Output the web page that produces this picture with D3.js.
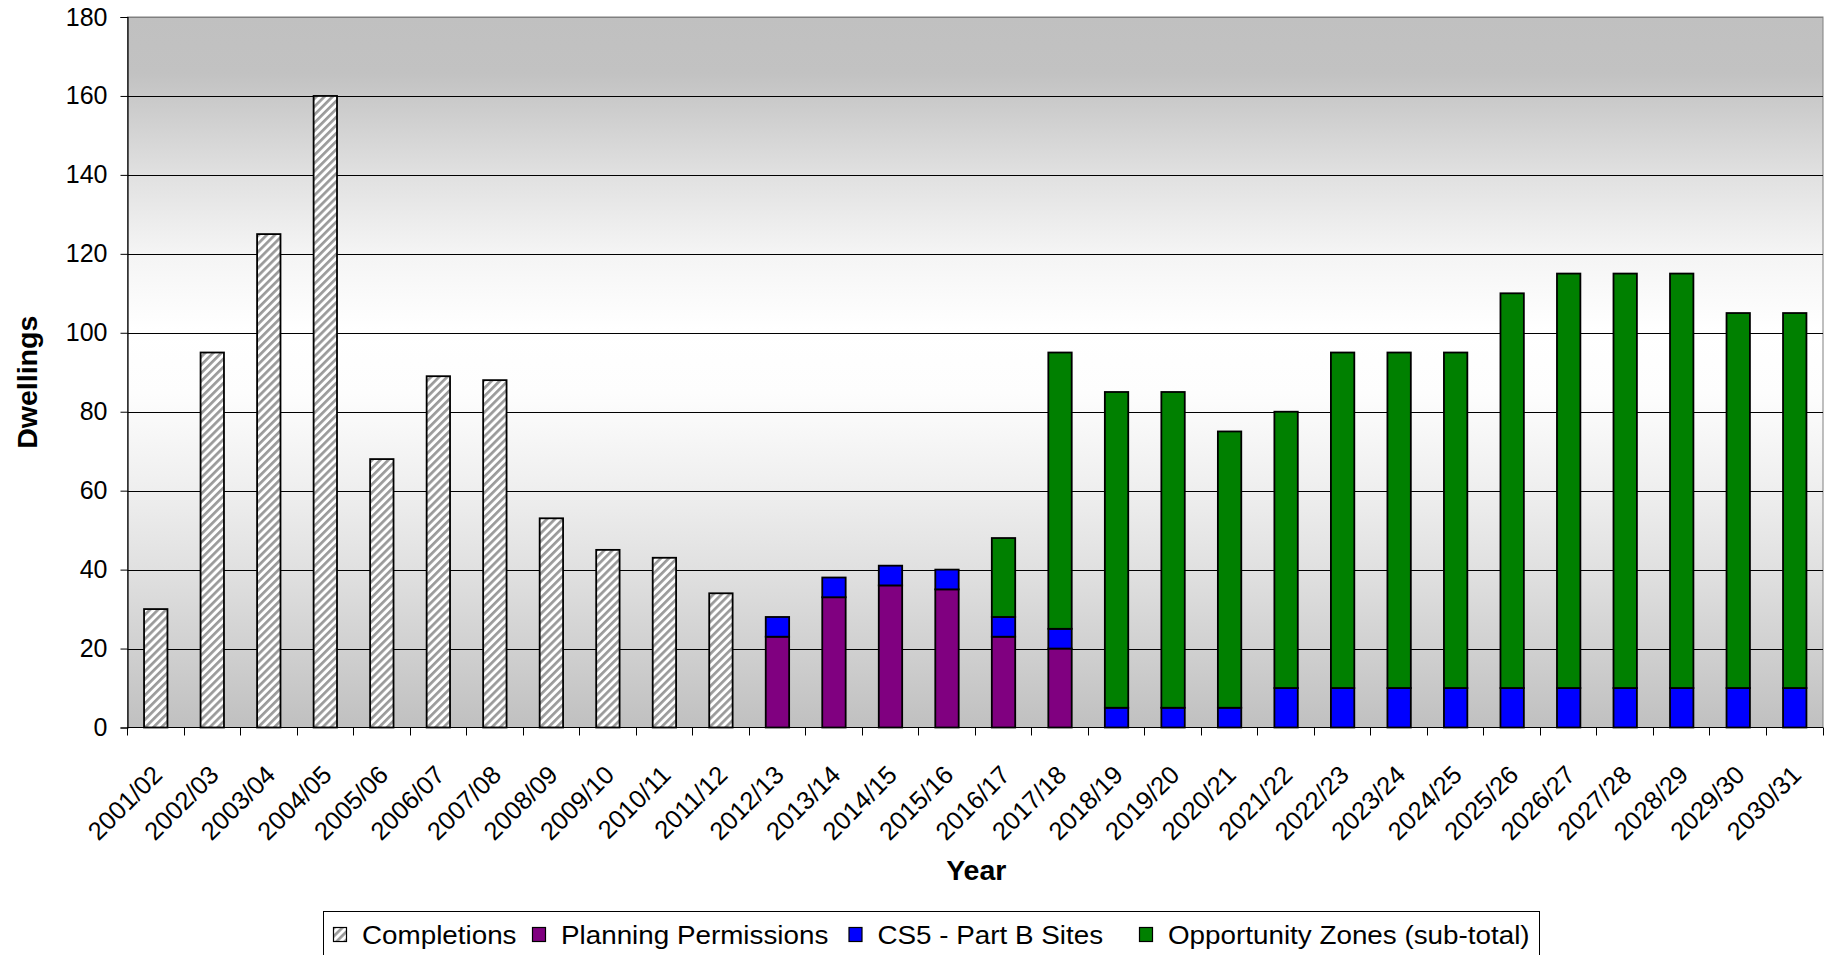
<!DOCTYPE html>
<html>
<head>
<meta charset="utf-8">
<script src="https://cdn.jsdelivr.net/npm/d3@7"></script>
<style>
  body { margin: 0; background: #fff; }
  svg { display: block; }
  text { font-family: "Liberation Sans", Arial, Helvetica, sans-serif; fill: #000; }
</style>
</head>
<body>
<svg id="chart" width="1830" height="955"></svg>
<script>
// Dwellings per year: completions to date, then the projected supply by source
const years = [
  "2001/02","2002/03","2003/04","2004/05","2005/06","2006/07","2007/08","2008/09",
  "2009/10","2010/11","2011/12","2012/13","2013/14","2014/15","2015/16","2016/17",
  "2017/18","2018/19","2019/20","2020/21","2021/22","2022/23","2023/24","2024/25",
  "2025/26","2026/27","2027/28","2028/29","2029/30","2030/31"
];
const completions         = [30,95,125,160,68,89,88,53,45,43,34, 0, 0, 0, 0, 0, 0, 0, 0, 0, 0, 0, 0, 0,  0,  0,  0,  0, 0, 0];
const planningPermissions = [ 0, 0,  0,  0, 0, 0, 0, 0, 0, 0, 0,23,33,36,35,23,20, 0, 0, 0, 0, 0, 0, 0,  0,  0,  0,  0, 0, 0];
const cs5PartBSites       = [ 0, 0,  0,  0, 0, 0, 0, 0, 0, 0, 0, 5, 5, 5, 5, 5, 5, 5, 5, 5,10,10,10,10, 10, 10, 10, 10,10,10];
const opportunityZones    = [ 0, 0,  0,  0, 0, 0, 0, 0, 0, 0, 0, 0, 0, 0, 0,20,70,80,80,70,70,85,85,85,100,105,105,105,95,95];

const seriesNames = ["Completions", "Planning Permissions", "CS5 - Part B Sites", "Opportunity Zones (sub-total)"];
const seriesKeys  = ["completions", "planning", "cs5", "oz"];
const yTicks = [0, 20, 40, 60, 80, 100, 120, 140, 160, 180];
const yTitle = "Dwellings";
const xTitle = "Year";

const plot = { left: 127.5, right: 1823, top: 17, bottom: 727.5 };

const svg = d3.select("#chart");
const defs = svg.append("defs");

// plot-area background: grey at the edges, white in the middle band
const grad = defs.append("linearGradient")
  .attr("id", "plotBg").attr("x1", 0).attr("y1", 0).attr("x2", 0).attr("y2", 1);
[[0, "#c0c0c0"], [0.08, "#c2c2c2"], [0.22, "#e0e0e0"], [0.33, "#f4f4f4"], [0.44, "#ffffff"],
 [0.53, "#fdfdfd"], [0.67, "#eeeeee"], [0.78, "#e0e0e0"], [0.89, "#d0d0d0"], [1, "#c0c0c0"]]
  .forEach(([o, c]) => grad.append("stop").attr("offset", o).attr("stop-color", c));

// wide upward diagonal hatch for the completions bars
const hatch = defs.append("pattern")
  .attr("id", "hatch").attr("patternUnits", "userSpaceOnUse")
  .attr("width", 5.7).attr("height", 10)
  .attr("patternTransform", "rotate(45)");
hatch.append("rect").attr("width", 5.7).attr("height", 10).attr("fill", "#ffffff");
hatch.append("rect").attr("x", 0).attr("width", 2.7).attr("height", 10).attr("fill", "#9a9a9a");

const fills = {
  completions: "url(#hatch)",
  planning: "#800080",
  cs5: "#0000ff",
  oz: "#008000"
};

const x = d3.scaleBand()
  .domain(years)
  .range([plot.left, plot.right])
  .paddingInner(0.586)
  .paddingOuter(0.293);

const y = d3.scaleLinear().domain([0, 180]).range([plot.bottom, plot.top]);

// background
svg.append("rect")
  .attr("x", plot.left).attr("y", plot.top)
  .attr("width", plot.right - plot.left).attr("height", plot.bottom - plot.top)
  .attr("fill", "url(#plotBg)")
  .attr("stroke", "#808080").attr("stroke-width", 1);

// horizontal gridlines
const crisp = v => Math.round(v) + 0.5;
svg.append("g").selectAll("line")
  .data(yTicks.filter(t => t > 0))
  .join("line")
  .attr("x1", plot.left).attr("x2", plot.right)
  .attr("y1", d => crisp(y(d))).attr("y2", d => crisp(y(d)))
  .attr("stroke", d => d === 180 ? "#808080" : "#000")
  .attr("stroke-width", 1);

// stacked bars
const rows = years.map((yr, i) => ({
  year: yr,
  completions: completions[i],
  planning: planningPermissions[i],
  cs5: cs5PartBSites[i],
  oz: opportunityZones[i]
}));
const stacked = d3.stack().keys(seriesKeys)(rows);

const barG = svg.append("g");
stacked.forEach(layer => {
  barG.append("g")
    .selectAll("rect")
    .data(layer.filter(d => d[1] - d[0] > 0))
    .join("rect")
    .attr("x", d => x(d.data.year))
    .attr("width", x.bandwidth())
    .attr("y", d => y(d[1]))
    .attr("height", d => y(d[0]) - y(d[1]))
    .attr("fill", fills[layer.key])
    .attr("stroke", "#000")
    .attr("stroke-width", 1.8);
});

// y axis
const yAxis = d3.axisLeft(y).tickValues(yTicks).tickSize(7).tickPadding(13);
const yg = svg.append("g").attr("transform", `translate(${plot.left},0)`).call(yAxis);
yg.select(".domain").attr("stroke", "#000").attr("stroke-width", 1.2);
yg.selectAll(".tick line").attr("stroke", "#000");
yg.selectAll(".tick text")
  .style("font-family", '"Liberation Sans", Arial, sans-serif')
  .style("font-size", "25px").attr("fill", "#000");

// x axis: baseline plus ticks at category boundaries
const step = x.step();
const xBase = plot.bottom;
svg.append("line")
  .attr("x1", plot.left).attr("x2", plot.right)
  .attr("y1", xBase).attr("y2", xBase)
  .attr("stroke", "#000").attr("stroke-width", 1.2);
svg.append("g").selectAll("line")
  .data(d3.range(years.length + 1))
  .join("line")
  .attr("x1", i => crisp(plot.left + i * step - 0.5)).attr("x2", i => crisp(plot.left + i * step - 0.5))
  .attr("y1", xBase).attr("y2", xBase + 8)
  .attr("stroke", "#000");

// rotated category labels
svg.append("g").selectAll("text")
  .data(years)
  .join("text")
  .attr("transform", d => `translate(${x(d) + x.bandwidth() / 2 - 5},${xBase + 36}) rotate(-45)`)
  .attr("text-anchor", "end")
  .attr("dy", "0.72em")
  .style("font-size", "25.5px")
  .text(d => d);

// axis titles
svg.append("text")
  .attr("transform", `translate(37,${(plot.top + plot.bottom) / 2 + 10}) rotate(-90)`)
  .attr("text-anchor", "middle")
  .style("font-size", "28.5px").style("font-weight", "bold")
  .text(yTitle);

svg.append("text")
  .attr("x", (plot.left + plot.right) / 2 + 1)
  .attr("y", 880)
  .attr("text-anchor", "middle")
  .style("font-size", "28.5px").style("font-weight", "bold")
  .text(xTitle);

// legend
const legend = svg.append("g");
legend.append("rect")
  .attr("x", 323.5).attr("y", 911.5)
  .attr("width", 1216).attr("height", 80)
  .attr("fill", "#fff").attr("stroke", "#000").attr("stroke-width", 1);

const swatchX = [333, 532, 848.5, 1139];
seriesKeys.forEach((k, i) => {
  const g = legend.append("g").attr("transform", `translate(${swatchX[i]},0)`);
  g.append("rect")
    .attr("x", 0.5).attr("y", 927.5).attr("width", 13).attr("height", 14)
    .attr("fill", fills[k]).attr("stroke", "#000").attr("stroke-width", 1.2);
  g.append("text")
    .attr("transform", "translate(29,944) scale(1.07,1)")
    .style("font-size", "26px")
    .text(seriesNames[i]);
});
</script>
</body>
</html>
